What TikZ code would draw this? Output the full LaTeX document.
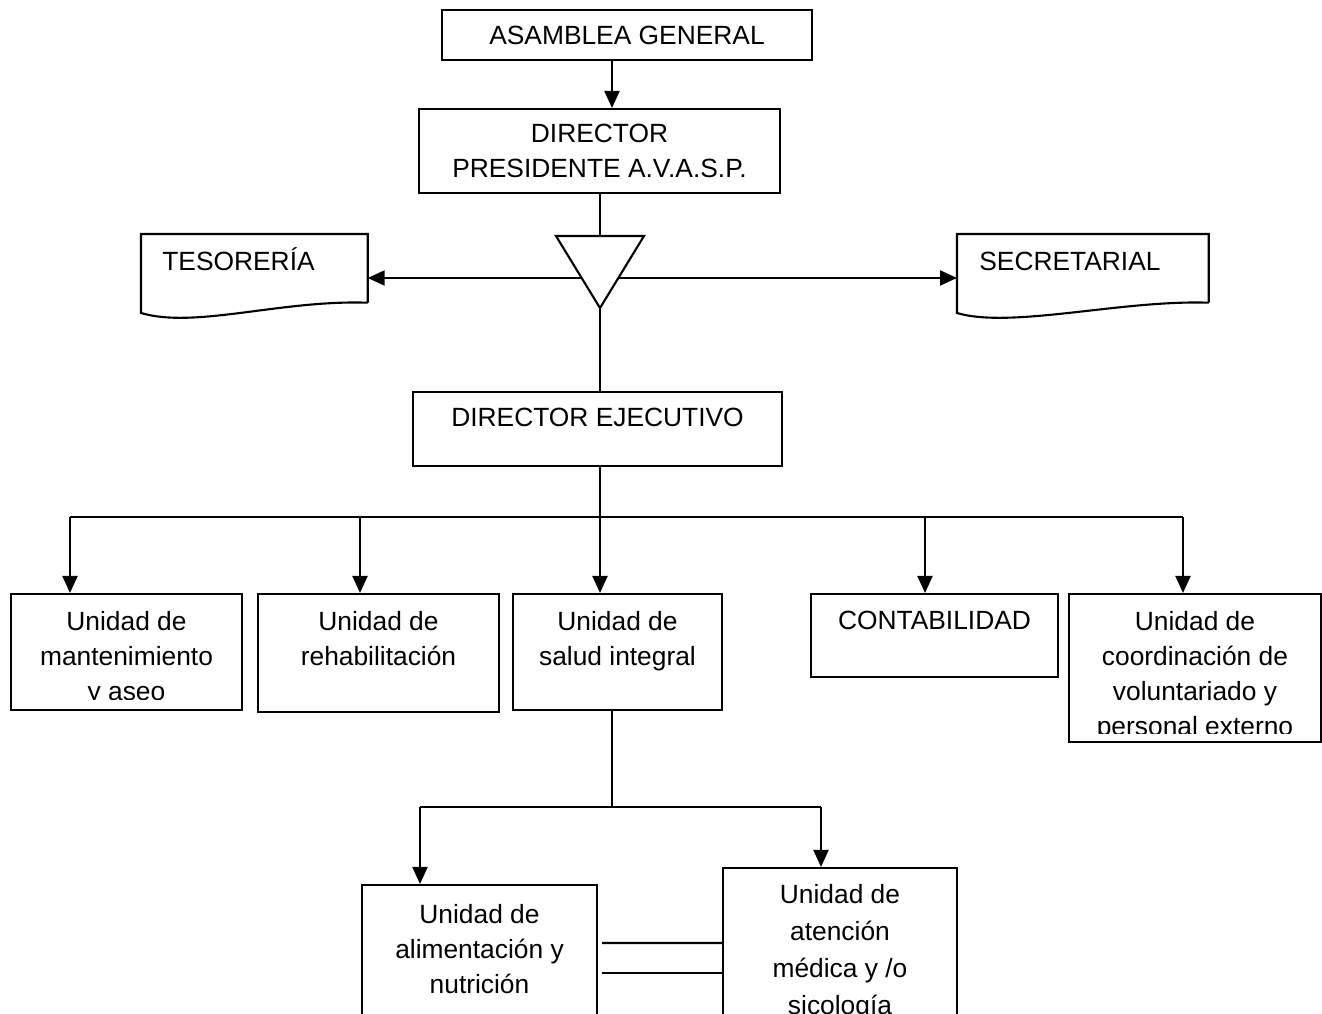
\documentclass[tikz,border=0pt]{standalone}
\usepackage{fontspec}
\setmainfont{Liberation Sans}
\usetikzlibrary{arrows.meta,calc,positioning}

\begin{document}
\begin{tikzpicture}[
  font=\fontsize{15}{19.9}\selectfont,
  cell/.style={draw, line width=1.2pt, inner sep=0pt},
  txt/.style={align=center, inner sep=0pt, anchor=north},
  doc/.style={inner sep=0pt, anchor=north west, minimum height=1.36cm},
  link/.style={line width=1.2pt},
  arrow/.style={-{Triangle[length=0.34cm, width=0.30cm]}, line width=1.2pt}
]
\useasboundingbox (0,0) rectangle (26.44,-20.26);
\clip (0,0) rectangle (26.44,-20.26);

% top of the chart
\node[cell, minimum width=7.40cm, minimum height=1.00cm] (asam) at (12.54,-0.70) {ASAMBLEA GENERAL};
\node[cell, minimum width=7.22cm, minimum height=1.68cm, align=center] (pres) at (11.99,-3.02) {DIRECTOR\\PRESIDENTE A.V.A.S.P.};
\draw[arrow] ([xshift=-0.30cm]asam.south) -- ([xshift=-0.30cm]asam.south |- pres.north);

% triangle with the two side documents
\coordinate (triTL) at (11.12,-4.72);
\coordinate (triTR) at (12.88,-4.72);
\coordinate (triB) at (12.00,-6.16);
\coordinate (triL) at ($(triTL)!0.583!(triB)$);
\coordinate (triR) at ($(triTR)!0.583!(triB)$);
\draw[link] (triTL) -- (triTR) -- (triB) -- cycle;
\draw[link] (pres.south -| triB) -- (triB |- triTL);

\node[doc, minimum width=4.52cm] (teso) at (2.82,-4.68) {};
\node[doc, minimum width=5.02cm] (secr) at (19.14,-4.68) {};
\foreach \n in {teso,secr}
  \draw[link] (\n.south east) -- (\n.north east) -- (\n.north west) -- ($(\n.north west)+(0,-1.58)$)
    .. controls ($(\n.north west)+(1.08,-1.90)$) and ($(\n.south east)+(-1.74,0.06)$) .. (\n.south east);
\node[anchor=base west, inner sep=0pt] (tesoT) at ($(teso.north west)+(0.42,-0.73)$) {TESORERÍA};
\node[anchor=base west, inner sep=0pt] (secrT) at ($(secr.north west)+(0.44,-0.72)$) {SECRETARIAL};
\draw[arrow] (triL) -- (teso.east |- triL);
\draw[arrow] (triR) -- (secr.west |- triR);

% executive director
\node[cell, minimum width=7.38cm, minimum height=1.48cm] (ejec) at (11.95,-8.58) {};
\node[txt] (ejecT) at ([yshift=-0.34cm]ejec.north) {DIRECTOR EJECUTIVO};
\draw[link] (triB) -- (ejec.north -| triB);

% units
\node[cell, minimum width=4.62cm, minimum height=2.32cm] (mant) at (2.53,-13.04) {};
\node[cell, minimum width=4.82cm, minimum height=2.36cm] (rehab) at (7.57,-13.06) {};
\node[cell, minimum width=4.18cm, minimum height=2.32cm] (salud) at (12.35,-13.04) {};
\node[cell, minimum width=4.94cm, minimum height=1.66cm] (conta) at (18.69,-12.71) {};
\node[cell, minimum width=5.04cm, minimum height=2.96cm] (volun) at (23.90,-13.36) {};
\foreach \n/\m/\t in {mant/0.23/{Unidad de\\mantenimiento\\y aseo},
                      rehab/0.20/{Unidad de\\rehabilitación},
                      salud/0.20/{Unidad de\\salud integral},
                      conta/0.20/{CONTABILIDAD},
                      volun/0.20/{Unidad de\\coordinación de\\voluntariado y\\personal externo}} {
  \begin{scope}
    \clip (\n.north west) rectangle ($(\n.south east)+(0,\m)$);
    \node[txt] (\n-txt) at ([yshift=-0.36cm]\n.north) {\t};
  \end{scope}
}

\coordinate (bus) at (12.00,-10.34);
\draw[link] (ejec.south -| bus) -- (bus);
\draw[link] (bus -| 1.40,0) -- (bus -| 23.66,0);
\foreach \x/\n in {1.40/mant,7.20/rehab,12.00/salud,18.50/conta,23.66/volun}
  \draw[arrow] (bus -| \x,0) -- (\n.north -| \x,0);

% health units
\node[cell, minimum width=4.70cm, minimum height=3.10cm] (alim) at (9.59,-19.25) {};
\node[cell, minimum width=4.68cm, minimum height=3.44cm] (atenc) at (16.80,-19.08) {};
\node[txt] (alimT) at ([yshift=-0.40cm]alim.north) {Unidad de\\alimentación y\\nutrición};
\node[txt, font=\fontsize{15}{21}\selectfont] (atencT) at ([yshift=-0.34cm]atenc.north) {Unidad de\\atención\\médica y /o\\sicología};

\coordinate (bus2) at (12.24,-16.14);
\draw[link] (salud.south -| bus2) -- (bus2);
\draw[link] (bus2 -| 8.40,0) -- (bus2 -| 16.42,0);
\foreach \x/\n in {8.40/alim,16.42/atenc}
  \draw[arrow] (bus2 -| \x,0) -- (\n.north -| \x,0);

\draw[link] ($(alim.north east)+(0.08,-1.18)$) -- ($(atenc.north west)+(0,-1.52)$);
\draw[link] ($(alim.north east)+(0.08,-1.78)$) -- ($(atenc.north west)+(0,-2.12)$);
\end{tikzpicture}
\end{document}
